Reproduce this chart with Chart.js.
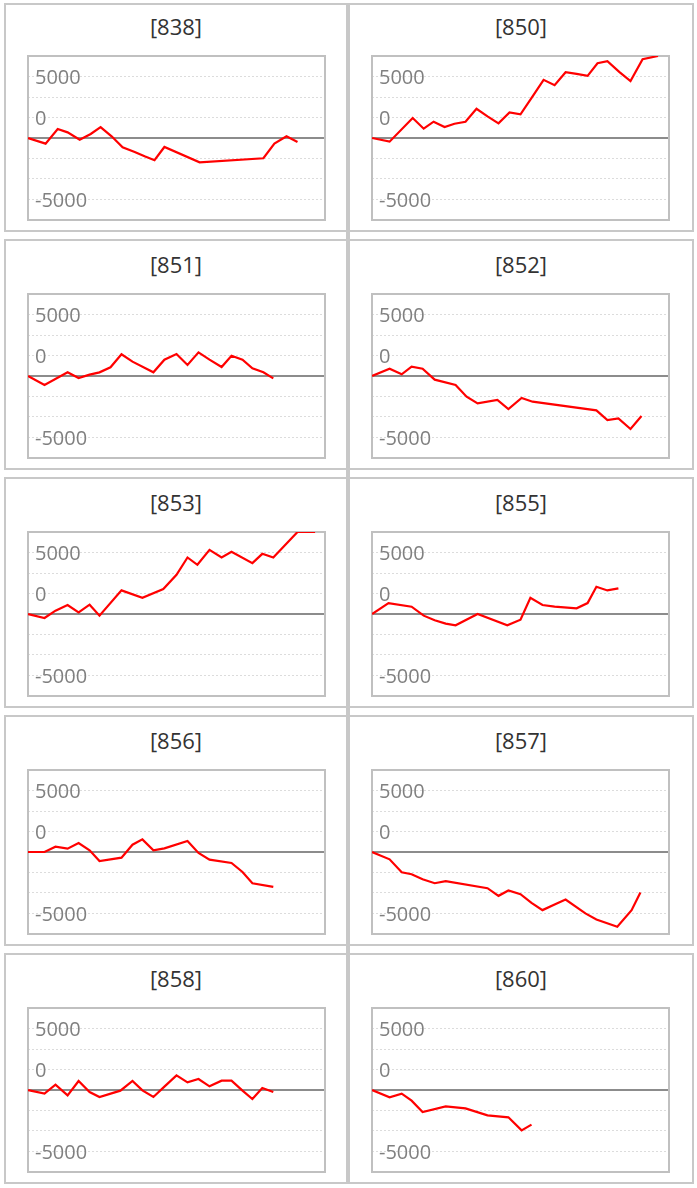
<!DOCTYPE html>
<html>
<head>
<meta charset="utf-8">
<script src="https://cdn.jsdelivr.net/npm/chart.js@4.4.1/dist/chart.umd.min.js"></script>
<style>
html,body{margin:0;padding:0;background:#fff;}
body{width:697px;height:1188px;position:relative;overflow:hidden;}
.panel{position:absolute;border:2px solid #c8c8c8;box-sizing:border-box;}
.divider{position:absolute;background:#c8c8c8;}
.title{position:absolute;text-align:center;font-family:'Open Sans',sans-serif;font-size:22px;color:#333;line-height:30px;height:30px;white-space:nowrap;}
.plot{position:absolute;}
.plot canvas{display:block;}
</style>
</head>
<body>
<script>
// ---- data ----
const CODES = ['838','850','851','852','853','855','856','857','858','860'];

const days838 = [0,1.6,2.7,3.6,4.7,5.7,6.6,7.6,8.6,9.7,10.6,11.5,12.4,15.6,21.4,22.4,23.5,24.5];
const pnl838  = [0,-460,730,460,-135,325,890,135,-757,-1135,-1487,-1811,-730,-1973,-1649,-460,135,-324];

const days850 = [0,1.6,3.7,4.7,5.6,6.6,7.5,8.5,9.5,10.5,11.5,12.5,13.5,14.6,15.6,16.6,17.6,18.6,19.6,20.5,21.4,22.5,23.5,24.6,26.0];
const pnl850  = [0,-297,1622,757,1324,892,1162,1324,2378,1757,1189,2081,1919,3378,4730,4297,5351,5216,5054,6081,6243,5351,4622,6405,6667];

const days851 = [0,1.5,3.6,4.6,5.6,6.5,7.5,8.5,9.5,11.4,12.4,13.5,14.5,15.5,16.5,17.6,18.5,19.5,20.4,21.4,22.3];
const pnl851  = [0,-732,298,-163,108,298,705,1762,1165,298,1328,1789,894,1924,1328,732,1653,1328,623,298,-190];

const days852 = [0,1.6,2.7,3.6,4.6,5.7,7.6,8.6,9.6,11.4,12.4,13.6,14.6,20.4,21.4,22.4,23.5,24.5];
const pnl852  = [0,596,136,759,596,-298,-732,-1680,-2222,-1951,-2683,-1789,-2087,-2791,-3577,-3442,-4309,-3252];

const days853 = [0,1.5,2.5,3.6,4.6,5.6,6.5,8.5,10.4,12.3,13.5,14.5,15.4,16.5,17.6,18.5,20.4,21.3,22.3,24.5,26.1];
const pnl853  = [0,-324,270,730,135,757,-135,1919,1324,2027,3189,4595,4000,5216,4595,5054,4135,4892,4595,6667,6667];

const days855 = [0,1.5,3.6,4.7,5.7,6.7,7.6,9.6,12.3,13.5,14.4,15.5,16.6,18.6,19.6,20.4,21.4,22.4];
const pnl855  = [0,891,594,-135,-513,-783,-918,0,-918,-459,1323,729,594,459,891,2214,1917,2079];

const days856 = [0,1.5,2.5,3.6,4.6,5.6,6.5,8.5,9.5,10.4,11.4,12.4,14.5,15.5,16.5,18.5,19.5,20.4,22.3];
const pnl856  = [0,0,432,270,729,135,-729,-459,594,1026,135,297,891,-81,-621,-891,-1620,-2538,-2835];

const days857 = [0,1.6,2.7,3.6,4.6,5.7,6.7,10.5,11.5,12.4,13.5,14.5,15.5,16.6,17.6,19.4,20.4,22.3,23.6,24.4];
const pnl857  = [0,-594,-1647,-1809,-2214,-2538,-2376,-2943,-3564,-3132,-3429,-4131,-4725,-4266,-3861,-4995,-5481,-6075,-4725,-3294];

const days858 = [0,1.5,2.5,3.6,4.6,5.6,6.5,8.4,9.5,10.4,11.4,12.4,13.5,14.5,15.5,16.5,17.6,18.5,19.5,20.4,21.3,22.3];
const pnl858  = [0,-298,434,-434,732,-163,-569,-54,732,-27,-569,271,1192,623,894,298,759,759,-54,-732,163,-163];

const days860 = [0,1.6,2.7,3.6,4.6,6.7,8.5,10.5,12.4,13.6,14.5];
const pnl860  = [0,-596,-298,-867,-1789,-1328,-1491,-2060,-2222,-3279,-2818];

const Y_TICKS = [-5000,-3333.33,-1666.67,0,1666.67,3333.33,5000];
const Y_TICK_LABELS = ['-5000','','','','0','','5000'];
const Y_MIN = -6666.67, Y_MAX = 6666.67;
const X_MIN = 0, X_MAX = 27;

const SERIES = {
  '838':[days838,pnl838], '850':[days850,pnl850], '851':[days851,pnl851],
  '852':[days852,pnl852], '853':[days853,pnl853], '855':[days855,pnl855],
  '856':[days856,pnl856], '857':[days857,pnl857], '858':[days858,pnl858],
  '860':[days860,pnl860]
};

// ---- layout ----
const boxPlugin = {
  id:'boxBorder',
  beforeDatasetsDraw(chart){
    const {ctx, chartArea:a} = chart;
    ctx.save();
    ctx.strokeStyle = '#c0c0c0';
    ctx.lineWidth = 2;
    ctx.strokeRect(a.left, a.top, a.right - a.left, a.bottom - a.top);
    ctx.restore();
  }
};

function el(cls, style){
  const d = document.createElement('div');
  d.className = cls;
  Object.assign(d.style, style);
  document.body.appendChild(d);
  return d;
}

const PITCH = 238, Z0 = 138.3;
el('divider', {left:'346px', width:'4px', top:'3px', height:(Math.round(Z0 + 4*PITCH + 94) - 3) + 'px'});

CODES.forEach((code, i) => {
  const row = Math.floor(i/2), col = i % 2;
  const Z = Z0 + PITCH*row;
  const top = row === 0 ? 3 : Math.round(Z - 137);
  const bottom = Math.round(Z + 94);
  const pLeft = col === 0 ? 4 : 348;
  const pWidth = col === 0 ? 344 : 346;
  el('panel', {left:pLeft+'px', top:top+'px', width:pWidth+'px', height:(bottom-top)+'px'});
  const t = el('title', {left:pLeft+'px', width:pWidth+'px', top:(Z - 112.5 - 15)+'px'});
  t.textContent = '[' + code + ']';
  const plot = el('plot', {left:(col === 0 ? 27 : 371)+'px', top:Math.round(Z - 83)+'px', width:'299px', height:'166px'});
  const cv = document.createElement('canvas');
  plot.appendChild(cv);
  const [days, pnl] = SERIES[code];
  new Chart(cv, {
    type:'line',
    data:{datasets:[{
      data: days.map((d, k) => ({x:d, y:pnl[k]})),
      borderColor:'#ff0000', borderWidth:2.2, pointRadius:0, tension:0, fill:false
    }]},
    options:{
      responsive:true, maintainAspectRatio:false, animation:false, events:[],
      layout:{padding:1},
      plugins:{legend:{display:false}, tooltip:{enabled:false}, title:{display:false}},
      scales:{
        x:{type:'linear', display:false, min:X_MIN, max:X_MAX},
        y:{
          type:'linear', position:'left', min:Y_MIN, max:Y_MAX,
          afterBuildTicks: s => { s.ticks = Y_TICKS.map(v => ({value:v})); },
          afterFit: s => { s.width = 0; s.paddingTop = 0; s.paddingBottom = 0; },
          ticks:{
            mirror:true, padding:7, autoSkip:false, labelOffset:2,
            color:'#808080', font:{family:"'Open Sans', sans-serif", size:20},
            callback:(v, k) => Y_TICK_LABELS[k]
          },
          grid:{
            drawTicks:false,
            color: c => (c.tick && c.tick.value === 0) ? '#8c8c8c' : '#dcdcdc',
            lineWidth: c => (c.tick && c.tick.value === 0) ? 2 : 1
          },
          border:{display:false, dash: c => (c.tick && c.tick.value === 0) ? [] : [2,2]}
        }
      }
    },
    plugins:[boxPlugin]
  });
});
</script>
</body>
</html>
